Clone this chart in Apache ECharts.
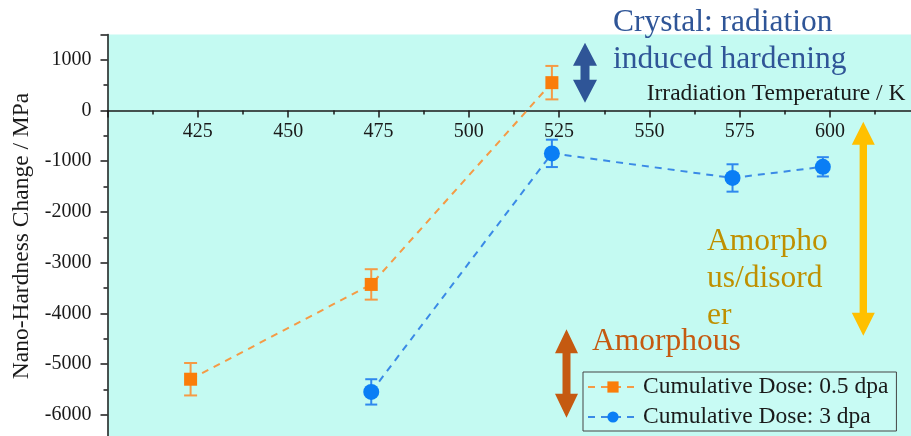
<!DOCTYPE html>
<html>
<head>
<meta charset="utf-8">
<title>Nano-Hardness Change vs Irradiation Temperature</title>
<script src="https://cdn.jsdelivr.net/npm/echarts@6/dist/echarts.min.js"></script>
<style>
  html, body { margin: 0; padding: 0; background: #ffffff; }
  #chart { width: 911px; height: 436px; }
</style>
</head>
<body>
<div id="chart"></div>
<script>
// Irradiation temperature (K), hardness change (MPa) and error (MPa)
const temps05 = [423, 473, 523];
const hard05 = [-5300, -3430, 550];
const err05 = [320, 300, 330];

const temps3 = [473, 523, 573, 598];
const hard3 = [-5550, -845, -1330, -1110];
const err3 = [250, 270, 270, 190];

const seriesNames = ['Cumulative Dose: 0.5 dpa', 'Cumulative Dose: 3 dpa'];
const xTicks = { min: 400, max: 625, step: 25 };
const yTicks = { min: -7000, max: 1500, step: 1000 };

const SERIF = "'Liberation Serif', 'Times New Roman', serif";
const ORANGE = '#fa7d0a';
const BLUE = '#0a7ef5';

const W = 911, H = 436;
const GRID = { left: 107.5, right: -9.4, top: 34.5, bottom: -29.4 };
// distance of the value-0 line above the grid's bottom edge, so the
// temperature axis (with its labels) can sit on it
const plotH = H - GRID.top - GRID.bottom;
const zeroLift = plotH * (0 - yTicks.min) / (yTicks.max - yTicks.min);

const pairs = (xs, ys) => xs.map((x, i) => [x, ys[i]]);
const bars = (xs, ys, es) => xs.map((x, i) => [x, ys[i] - es[i], ys[i] + es[i]]);

function errorBar(color, capHalf) {
  return function (params, api) {
    const x = api.value(0);
    const lo = api.coord([x, api.value(1)]);
    const hi = api.coord([x, api.value(2)]);
    const st = { stroke: color, lineWidth: 2 };
    return {
      type: 'group',
      children: [
        { type: 'line', shape: { x1: lo[0], y1: lo[1], x2: hi[0], y2: hi[1] }, style: st },
        { type: 'line', shape: { x1: lo[0] - capHalf, y1: lo[1], x2: lo[0] + capHalf, y2: lo[1] }, style: st },
        { type: 'line', shape: { x1: hi[0] - capHalf, y1: hi[1], x2: hi[0] + capHalf, y2: hi[1] }, style: st }
      ]
    };
  };
}

// double-headed vertical arrow outline
function doubleArrow(cx, top, bottom, hw, hl, sw) {
  return [
    [cx, top], [cx + hw, top + hl], [cx + sw, top + hl], [cx + sw, bottom - hl],
    [cx + hw, bottom - hl], [cx, bottom], [cx - hw, bottom - hl], [cx - sw, bottom - hl],
    [cx - sw, top + hl], [cx - hw, top + hl]
  ];
}

const chart = echarts.init(document.getElementById('chart'), null, { renderer: 'canvas' });

chart.setOption({
  backgroundColor: '#ffffff',
  animation: false,
  grid: {
    left: GRID.left, right: GRID.right, top: GRID.top, bottom: GRID.bottom,
    show: true, backgroundColor: '#c4faf2', borderWidth: 0,
    containLabel: false, outerBoundsMode: 'none'
  },
  xAxis: {
    type: 'value',
    position: 'bottom',
    offset: -zeroLift,
    min: xTicks.min, max: xTicks.max, interval: xTicks.step,
    name: 'Irradiation Temperature / K',
    nameLocation: 'end',
    nameGap: -15,
    nameTextStyle: {
      fontFamily: SERIF, fontSize: 23.5, color: '#1a1a1a',
      align: 'right', verticalAlign: 'bottom', padding: [0, 0, 5, 0]
    },
    axisLine: { onZero: false, lineStyle: { color: '#1a1a1a', width: 1.5 } },
    axisTick: { show: true, inside: false, length: 7, lineStyle: { color: '#1a1a1a', width: 1.5 } },
    minorTick: { show: true, splitNumber: 2, length: 4, lineStyle: { color: '#1a1a1a', width: 1.5 } },
    splitLine: { show: false },
    axisLabel: {
      fontFamily: SERIF, fontSize: 20, color: '#1a1a1a', margin: 11,
      showMinLabel: false, showMaxLabel: false,
      formatter: v => String(v)
    }
  },
  yAxis: {
    type: 'value',
    min: yTicks.min, max: yTicks.max, interval: yTicks.step,
    axisLine: { show: true, onZero: false, lineStyle: { color: '#1a1a1a', width: 1.5 } },
    axisTick: { show: true, inside: false, length: 7, lineStyle: { color: '#1a1a1a', width: 1.5 } },
    minorTick: { show: true, splitNumber: 2, length: 4, lineStyle: { color: '#1a1a1a', width: 1.5 } },
    splitLine: { show: false },
    axisLabel: {
      fontFamily: SERIF, fontSize: 20, color: '#1a1a1a', margin: 16,
      showMaxLabel: false,
      formatter: v => String(v)
    }
  },
  legend: {
    data: seriesNames,
    orient: 'vertical',
    left: 583, top: 372,
    itemWidth: 50, itemHeight: 14, itemGap: 6,
    padding: [3, 8, 2, 4],
    borderColor: '#444444', borderWidth: 1,
    backgroundColor: '#c8fbf4',
    textStyle: { fontFamily: SERIF, fontSize: 23.5, color: '#1a1a1a' }
  },
  series: [
    {
      type: 'custom', z: 1, silent: true,
      renderItem: errorBar('#f59a45', 6.5),
      encode: { x: 0, y: [1, 2] },
      data: bars(temps05, hard05, err05)
    },
    {
      type: 'custom', z: 1, silent: true,
      renderItem: errorBar('#2f88ee', 6),
      encode: { x: 0, y: [1, 2] },
      data: bars(temps3, hard3, err3)
    },
    {
      name: seriesNames[0],
      type: 'line', z: 3,
      data: pairs(temps05, hard05),
      symbol: 'rect', symbolSize: 13,
      itemStyle: { color: ORANGE },
      lineStyle: { color: '#f59a45', width: 2, type: [7, 6] }
    },
    {
      name: seriesNames[1],
      type: 'line', z: 3,
      data: pairs(temps3, hard3),
      symbol: 'circle', symbolSize: 16,
      itemStyle: { color: BLUE },
      lineStyle: { color: '#3a8ae6', width: 2, type: [7, 6] }
    }
  ],
  graphic: [
    {
      type: 'text', x: 22, y: 236, rotation: Math.PI / 2,
      style: {
        text: 'Nano-Hardness Change / MPa', fontFamily: SERIF, fontSize: 23.5,
        fill: '#1a1a1a', align: 'center', verticalAlign: 'middle'
      }
    },
    {
      type: 'polygon', z: 10,
      shape: { points: doubleArrow(585, 42.7, 102.7, 12, 23, 4.5) },
      style: { fill: '#2f5597' }
    },
    {
      type: 'polygon', z: 10,
      shape: { points: doubleArrow(566.5, 329.3, 417.7, 11.5, 24, 4) },
      style: { fill: '#c55a11' }
    },
    {
      type: 'polygon', z: 10,
      shape: { points: doubleArrow(863.3, 121.7, 335.7, 11.5, 23, 3.7) },
      style: { fill: '#ffc000' }
    },
    {
      type: 'text', z: 10, x: 613, y: 4,
      style: {
        text: 'Crystal: radiation\ninduced hardening', fontFamily: SERIF, fontSize: 31.5,
        lineHeight: 37, fill: '#2f5597', align: 'left', verticalAlign: 'top'
      }
    },
    {
      type: 'text', z: 10, x: 592, y: 323,
      style: {
        text: 'Amorphous', fontFamily: SERIF, fontSize: 31.5,
        lineHeight: 37, fill: '#c55a11', align: 'left', verticalAlign: 'top'
      }
    },
    {
      type: 'text', z: 10, x: 707, y: 223,
      style: {
        text: 'Amorpho\nus/disord\ner', fontFamily: SERIF, fontSize: 31.5,
        lineHeight: 37, fill: '#bf9000', align: 'left', verticalAlign: 'top'
      }
    }
  ]
});
</script>
</body>
</html>
